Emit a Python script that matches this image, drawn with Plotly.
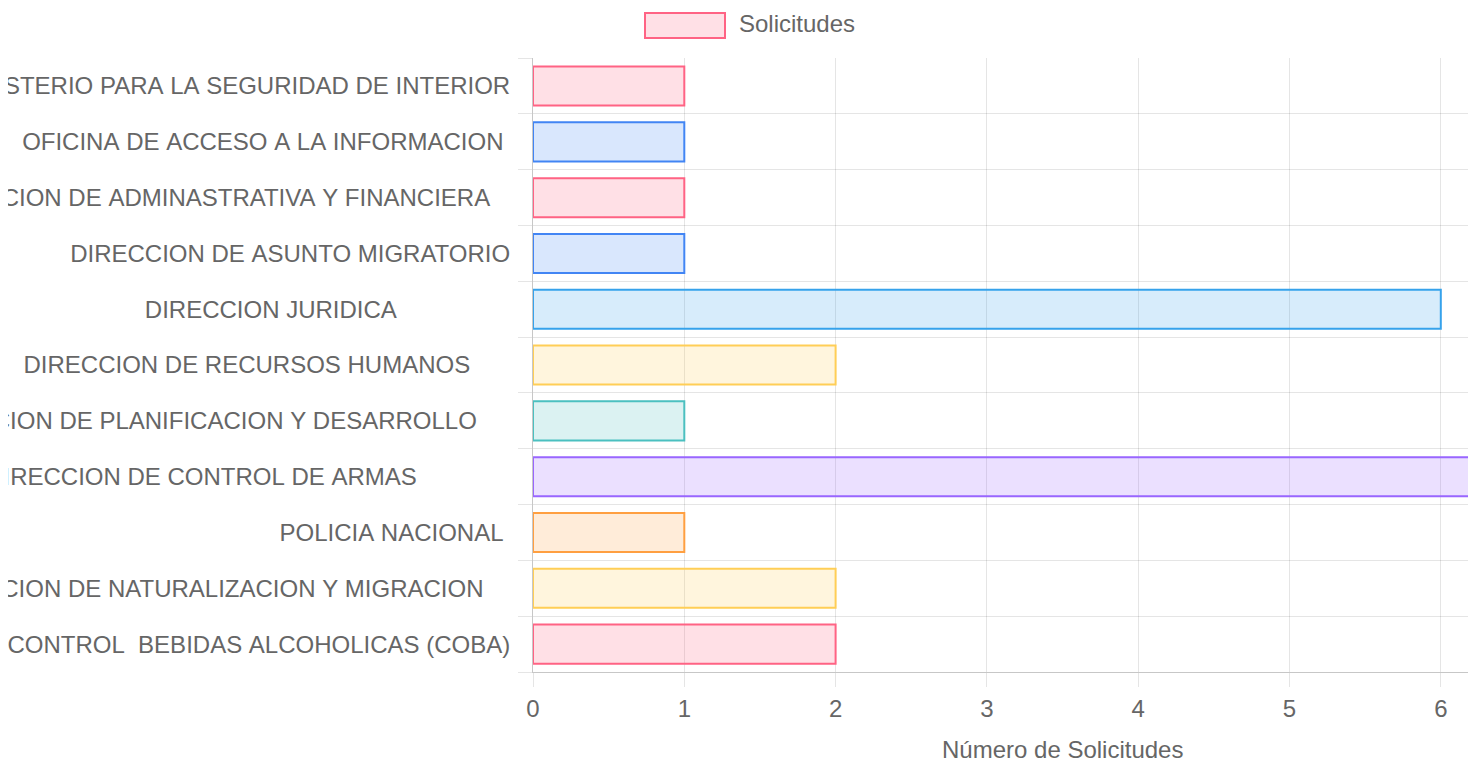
import plotly.graph_objects as go

# ---- data ----
categories = [
    "MINISTERIO PARA LA SEGURIDAD DE INTERIOR",
    "OFICINA DE ACCESO A LA INFORMACION ",
    "DIRECCION DE ADMINASTRATIVA Y FINANCIERA   ",
    "DIRECCION DE ASUNTO MIGRATORIO",
    "DIRECCION JURIDICA                 ",
    "DIRECCION DE RECURSOS HUMANOS      ",
    "DIRECCION DE PLANIFICACION Y DESARROLLO     ",
    "DIRECCION DE CONTROL DE ARMAS              ",
    "POLICIA NACIONAL ",
    "DIRECCION DE NATURALIZACION Y MIGRACION    ",
    "DIRECCION DE CONTROL  BEBIDAS ALCOHOLICAS (COBA)",
]
values = [1, 1, 1, 1, 6, 2, 1, 7, 1, 2, 2]
border_colors = [
    "rgb(255,99,132)", "rgb(66,133,244)", "rgb(255,99,132)", "rgb(66,133,244)",
    "rgb(54,162,235)", "rgb(255,206,86)", "rgb(75,192,192)", "rgb(153,102,255)",
    "rgb(255,159,64)", "rgb(255,206,86)", "rgb(255,99,132)",
]
fill_colors = [c.replace("rgb(", "rgba(").replace(")", ",0.2)") for c in border_colors]
x_ticks = [0, 1, 2, 3, 4, 5, 6]
series_name = "Solicitudes"
x_title = "Número de Solicitudes"

labels = [c.replace(" ", "\u00a0") for c in categories]

GRID = "rgba(0,0,0,0.1)"
AXIS = "rgba(0,0,0,0.22)"
OFF = 8  # page body margin
W, H = 1476 - OFF, 759 - OFF
L, R, T, B = 533 - OFF, 0, 58 - OFF, 87
pw, ph = W - L - R, H - T - B


def py(page_y):
    return (H - B - (page_y - OFF)) / ph


def px(page_x):
    return (page_x - OFF - L) / pw


fig = go.Figure()
fig.add_trace(go.Bar(
    x=values, y=labels, orientation="h",
    marker=dict(color=fill_colors, line=dict(color=border_colors, width=2)),
    width=0.7, name=series_name, showlegend=False,
    hovertemplate="%{y}: %{x}<extra></extra>",
))

fig.update_layout(
    template="none",
    width=W, height=H,
    margin=dict(l=L, r=R, t=T, b=B, pad=0, autoexpand=False),
    paper_bgcolor="white", plot_bgcolor="white",
    font=dict(family="Liberation Sans, Arial, sans-serif", size=24, color="#666666"),
    bargap=0.3,
    xaxis=dict(
        range=[0, pw / 151.3], tickvals=x_ticks, showgrid=True, gridcolor=GRID, gridwidth=1,
        ticks="outside", ticklen=14, tickcolor=GRID, tickwidth=1,
        showline=True, linecolor=AXIS, linewidth=1,
        zeroline=False,
        ticklabelstandoff=1, fixedrange=True, automargin=False,
    ),
    yaxis=dict(
        type="category", categoryorder="array", categoryarray=labels[::-1],
        range=[-0.5, len(labels) - 0.497], tickson="boundaries",
        ticks="outside", ticklen=14, tickcolor=GRID, tickwidth=1,
        showgrid=True, gridcolor=GRID, gridwidth=1,
        showline=True, linecolor=AXIS, linewidth=1,
        zeroline=False,
        ticklabelstandoff=17, fixedrange=True, automargin=False,
    ),
    shapes=[dict(
        type="rect", xref="paper", yref="paper",
        x0=px(645), x1=px(725), y0=py(38), y1=py(13),
        fillcolor=fill_colors[0], line=dict(color=border_colors[0], width=2),
    )],
    annotations=[
        dict(text=series_name, xref="paper", yref="paper",
             x=px(737), y=py(24), xanchor="left", yanchor="middle",
             showarrow=False, font=dict(size=24, color="#666666")),
        dict(text=x_title, xref="x", yref="paper",
             x=3.5, y=py(749), xanchor="center", yanchor="middle",
             showarrow=False, font=dict(size=24, color="#666666")),
    ],
)

fig.write_html("out.html")
